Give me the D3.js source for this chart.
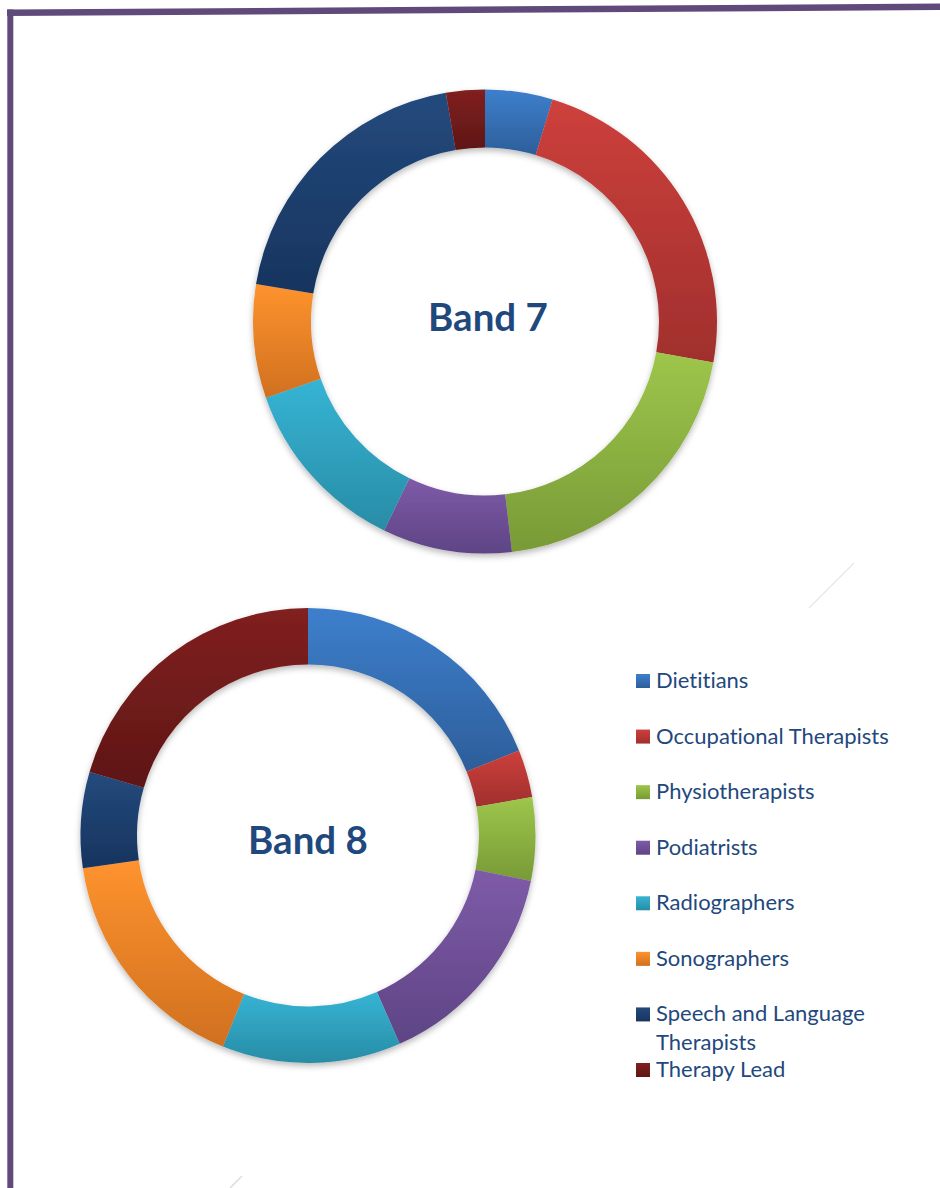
<!DOCTYPE html>
<html>
<head>
<meta charset="utf-8">
<script src="https://cdn.jsdelivr.net/npm/d3@7"></script>
<style>
  html, body { margin: 0; padding: 0; background: #ffffff; }
  svg { display: block; }
  text { font-variant-ligatures: none; }
</style>
</head>
<body>
<svg id="chart" width="940" height="1188"></svg>
<script>
// Staff groups and their shares (%) in each band
const categories = [
  "Dietitians",
  "Occupational Therapists",
  "Physiotherapists",
  "Podiatrists",
  "Radiographers",
  "Sonographers",
  "Speech and Language Therapists",
  "Therapy Lead"
];
const band7Values = [4.7, 23.1, 20.3, 9.0, 12.5, 7.9, 19.7, 2.7];
const band8Values = [18.9, 3.4, 5.9, 15.2, 12.7, 16.6, 6.8, 20.5];
const chartTitles = ["Band 7", "Band 8"];

// Fill colours: light (top) and dark (bottom) stops of each slice gradient
const lightColors = ["#3d7fcc", "#cd403c", "#9dc64b", "#7e5ba8", "#36b4d4", "#fe932e", "#234a7d", "#812020"];
const darkColors  = ["#2d5e9a", "#a02f2d", "#789a37", "#5e4485", "#288ca6", "#d0701f", "#17345e", "#5e1615"];

const svg = d3.select("#chart");
const defs = svg.append("defs");

const shadow = defs.append("filter")
  .attr("id", "ringShadow")
  .attr("x", "-10%").attr("y", "-10%")
  .attr("width", "120%").attr("height", "125%");
shadow.append("feDropShadow")
  .attr("dx", 0).attr("dy", 3)
  .attr("stdDeviation", 3)
  .attr("flood-color", "#000")
  .attr("flood-opacity", 0.28);

const color = d3.scaleOrdinal().domain(categories).range(d3.range(categories.length));

// Page frame
const frame = svg.append("g").attr("class", "frame");
frame.append("line")
  .attr("x1", 7).attr("y1", 12.8)
  .attr("x2", 940).attr("y2", 6.8)
  .attr("stroke", "#604a7b").attr("stroke-width", 6.5);
frame.append("line")
  .attr("x1", 10.3).attr("y1", 9.5)
  .attr("x2", 10.3).attr("y2", 1188)
  .attr("stroke", "#604a7b").attr("stroke-width", 6);

// faint guide strokes
frame.append("line")
  .attr("x1", 809).attr("y1", 608).attr("x2", 854).attr("y2", 563)
  .attr("stroke", "#e6e6e6").attr("stroke-width", 1.2);
frame.append("line")
  .attr("x1", 230).attr("y1", 1188).attr("x2", 242).attr("y2", 1176)
  .attr("stroke", "#dcdcdc").attr("stroke-width", 1.5);

const pie = d3.pie().sort(null).value(d => d.value);

function drawDonut(values, title, cx, cy, outerR, innerR, titleDx, titleDy, idx) {
  const data = categories.map((c, i) => ({ name: c, value: values[i] }));
  const arc = d3.arc().innerRadius(innerR).outerRadius(outerR);
  const g = svg.append("g")
    .attr("class", "donut")
    .attr("transform", `translate(${cx},${cy})`);

  const ring = g.append("g").attr("filter", "url(#ringShadow)");
  const arcs = pie(data);

  arcs.forEach((a, i) => {
    const k = color(a.data.name);
    const grad = defs.append("linearGradient")
      .attr("id", `grad-${idx}-${i}`)
      .attr("x1", 0).attr("y1", 0).attr("x2", 0).attr("y2", 1);
    grad.append("stop").attr("offset", "0%").attr("stop-color", lightColors[k]);
    grad.append("stop").attr("offset", "100%").attr("stop-color", darkColors[k]);
  });

  ring.selectAll("path")
    .data(arcs)
    .join("path")
    .attr("d", arc)
    .attr("fill", (d, i) => `url(#grad-${idx}-${i})`);

  g.append("text")
    .attr("x", titleDx).attr("y", titleDy)
    .attr("text-anchor", "middle")
    .attr("font-family", "Lato, 'Open Sans', sans-serif")
    .attr("font-weight", "bold")
    .attr("font-size", 38.5)
    .attr("fill", "#1f497d")
    .text(title);
}

drawDonut(band7Values, chartTitles[0], 485, 321.5, 232, 174, 3, 9.8, 7);
drawDonut(band8Values, chartTitles[1], 308, 835.5, 227.5, 171, 0, 18.2, 8);

// Legend
const legendY = d3.scalePoint().domain(categories).range([688, 1077]);
const legend = svg.append("g").attr("class", "legend");

categories.forEach((c, i) => {
  const grad = defs.append("linearGradient")
    .attr("id", `legend-grad-${i}`)
    .attr("x1", 0).attr("y1", 0).attr("x2", 0).attr("y2", 1);
  grad.append("stop").attr("offset", "0%").attr("stop-color", lightColors[i]);
  grad.append("stop").attr("offset", "100%").attr("stop-color", darkColors[i]);
});

const item = legend.selectAll("g")
  .data(categories)
  .join("g")
  .attr("transform", d => `translate(636,${legendY(d)})`);

item.append("rect")
  .attr("x", 0).attr("y", -14)
  .attr("width", 14).attr("height", 14)
  .attr("fill", d => `url(#legend-grad-${color(d)})`);

const maxTextWidth = 255;
item.append("text")
  .attr("x", 20).attr("y", 0)
  .attr("font-family", "Lato, 'Open Sans', sans-serif")
  .attr("font-size", 22)
  .attr("fill", "#1f497d")
  .each(function (d) {
    const t = d3.select(this);
    const words = d.split(" ");
    let line = [];
    let tspan = t.append("tspan").attr("x", 20).attr("dy", 0);
    words.forEach(w => {
      line.push(w);
      tspan.text(line.join(" "));
      if (tspan.node().getComputedTextLength() > maxTextWidth && line.length > 1) {
        line.pop();
        tspan.text(line.join(" "));
        line = [w];
        tspan = t.append("tspan").attr("x", 20).attr("dy", 28.5).text(w);
      }
    });
  });
</script>
</body>
</html>
